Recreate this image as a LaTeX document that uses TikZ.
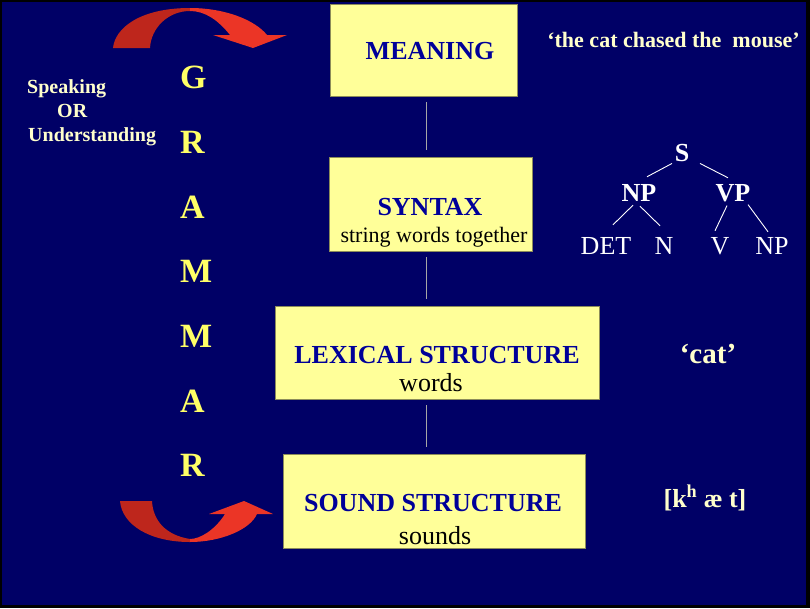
\documentclass[tikz,border=0pt]{standalone}
\usepackage{fontspec}
\setmainfont{Liberation Serif}
\usetikzlibrary{calc, positioning}

\definecolor{slidebg}{HTML}{000066}
\definecolor{boxfill}{HTML}{FFFF99}
\definecolor{boxline}{HTML}{8C8C5A}
\definecolor{titleblue}{HTML}{000099}
\definecolor{cream}{HTML}{FFFFCC}
\definecolor{gyellow}{HTML}{FFFF66}
\definecolor{arrowdark}{HTML}{BE261C}
\definecolor{arrowlight}{HTML}{EB3526}

\begin{document}
\begin{tikzpicture}[
    % one unit = one pixel of the slide, y runs downwards
    x=1pt, y=-1pt,
    box/.style={draw=boxline, fill=boxfill, line width=0.8pt, inner sep=0pt},
    boxtitle/.style={font=\fontsize{26}{30}\selectfont\bfseries, text=titleblue, anchor=base, inner sep=0pt},
    boxsub/.style={font=\fontsize{26}{30}\selectfont, text=black, anchor=base, inner sep=0pt},
    side/.style={font=\fontsize{20}{24}\selectfont\bfseries, text=cream, anchor=base west, inner sep=0pt},
    letter/.style={font=\fontsize{34}{40}\selectfont\bfseries, text=gyellow, anchor=base west, inner sep=0pt},
    example/.style={font=\fontsize{22}{26}\selectfont\bfseries, text=cream, anchor=base, inner sep=0pt},
    cat/.style={font=\fontsize{26}{30}\selectfont, text=white, anchor=base, inner sep=0pt},
    link/.style={draw=gray!70, line width=0.9pt, shorten <=6pt, shorten >=7pt},
    branch/.style={draw=white, line width=0.9pt}
]
    \useasboundingbox (0,0) rectangle (810,608);

    % --- Slide background ---
    \fill[black] (0,0) rectangle (810,608);
    \fill[slidebg] (2,2) rectangle (806,605);

    % --- Levels of the grammar ---
    \node[box, minimum width=187pt, minimum height=92pt] (meaning) at (423.5,50) {};
    \node[box, minimum width=203pt, minimum height=94pt] (syntax) at (430.5,204) {};
    \node[box, minimum width=324pt, minimum height=93pt] (lexical) at (437,352.5) {};
    \node[box, minimum width=302pt, minimum height=94pt] (sound) at (434,501) {};

    \node[boxtitle] (meaningT) at (430,59) {MEANING};
    \node[boxtitle] (syntaxT) at (430,215) {SYNTAX};
    \node[boxsub, font=\fontsize{22}{26}\selectfont] (syntaxS) at (434,242) {string words together};
    \node[boxtitle] (lexicalT) at (437,363) {LEXICAL STRUCTURE};
    \node[boxsub] (lexicalS) at (431,391) {words};
    \node[boxtitle] (soundT) at (433,511) {SOUND STRUCTURE};
    \node[boxsub] (soundS) at (435,544) {sounds};

    % thin links between the boxes
    \coordinate (rail) at (426,0);
    \draw[link] (meaning.south -| rail) -- (syntax.north -| rail);
    \draw[link] (syntax.south -| rail) -- (lexical.north -| rail);
    \draw[link] (lexical.south -| rail) -- (sound.north -| rail);

    % --- Left: direction and the word GRAMMAR ---
    \node[side] (speak) at (27,93) {Speaking};
    \node[side] (or) at (57,117) {OR};
    \node[side] (underst) at (28,141) {Understanding};

    \foreach \ch/\yy [count=\i] in {G/88, R/153, A/218, M/282, M/347, A/412, R/476}
        \node[letter] (gram\i) at (180,\yy) {\ch};

    % --- Curved arrows ---
    % top one, dark half then bright half with the head
    \fill[arrowdark] (113,48) .. controls (115,28) and (140,8) .. (190,8)
        -- (190,11) .. controls (168,11) and (151,28) .. (150,48) -- cycle;
    \fill[arrowlight] (190,8) .. controls (225,8) and (255,20) .. (267,35)
        -- (287,35) -- (253,48) -- (213,35) -- (230,35)
        .. controls (218,20) and (205,11) .. (190,11) -- cycle;
    % bottom one
    \fill[arrowdark] (120,501) .. controls (122,525) and (150,542) .. (190,542)
        -- (190,539) .. controls (165,535) and (153,520) .. (152,501) -- cycle;
    \fill[arrowlight] (190,542) .. controls (220,542) and (250,530) .. (257,514)
        -- (273,514) -- (244,501) -- (209,514) -- (225,514)
        .. controls (215,530) and (200,539) .. (190,539) -- cycle;

    % --- Right: examples ---
    \node[example] (sentence) at (673.5,47) {‘the cat chased the~~mouse’};

    % syntax tree
    \node[cat, font=\fontsize{26}{30}\selectfont\bfseries] (s) at (682,161) {S};
    \node[cat, font=\fontsize{26}{30}\selectfont\bfseries] (np1) at (639,201) {NP};
    \node[cat, font=\fontsize{26}{30}\selectfont\bfseries] (vp) at (733,201) {VP};
    \node[cat] (det) at (606,254) {DET};
    \node[cat] (n) at (664,254) {N};
    \node[cat] (v) at (720,254) {V};
    \node[cat] (np2) at (772,254) {NP};

    \draw[branch] ($(s.south)+(-10,2)$) -- ($(np1.north)+(8,-7)$);
    \draw[branch] ($(s.south)+(18,2)$) -- ($(vp.north)+(-5,-6)$);
    \draw[branch] ($(np1.south)+(-6,4)$) -- ($(det.north)+(7,-12)$);
    \draw[branch] ($(np1.south)+(1,5)$) -- ($(n.north)+(-4,-11)$);
    \draw[branch] ($(vp.south)+(-6,4)$) -- ($(v.north)+(-5,-6)$);
    \draw[branch] ($(vp.south)+(15,3)$) -- ($(np2.north)+(-4,-5)$);

    \node[example, font=\fontsize{29}{33}\selectfont\bfseries] (word) at (708,363) {‘cat’};
    \node[example, font=\fontsize{26}{30}\selectfont\bfseries] (phon) at (705,507) {[k\textsuperscript{h} æ t]};
\end{tikzpicture}
\end{document}
